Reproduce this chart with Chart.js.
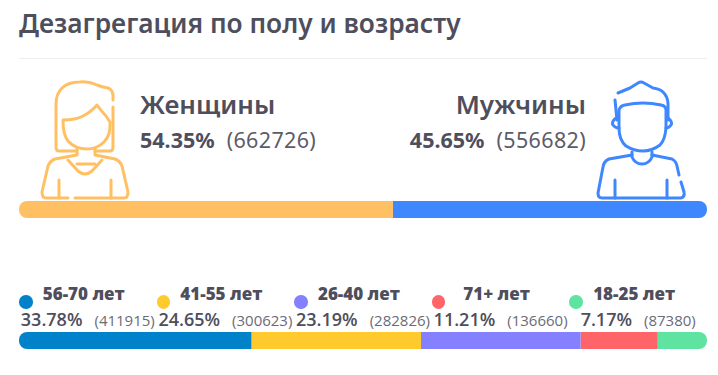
<!DOCTYPE html>
<html lang="ru">
<head>
  <meta charset="UTF-8">
  <title>Дезагрегация по полу и возрасту</title>
  <script src="https://cdn.jsdelivr.net/npm/chart.js"></script>
  <style>
    html, body { margin: 0; padding: 0; background: #fff; }
    body { width: 718px; height: 375px; position: relative; overflow: hidden; color: #4e4e5c; font-family: "Noto Sans", sans-serif; }
    h1 { position: absolute; left: 19px; top: 5px; margin: 0; font-size: 26.3px; line-height: 36px; font-weight: 600; white-space: nowrap; }
    .rule { position: absolute; left: 19px; top: 58px; width: 688px; height: 1px; background: #eeeeee; }
    .icons { position: absolute; left: 0; top: 0; }
    .icons path { fill: none; stroke-width: 3; stroke-linecap: round; stroke-linejoin: round; }
    .gender { position: absolute; top: 86px; white-space: nowrap; }
    .gender.left { left: 140px; }
    .gender.right { right: 132px; text-align: right; }
    .gender .name { font-size: 26px; line-height: 36px; font-weight: 600; }
    .gender .nums { font-size: 21.5px; line-height: 28px; margin-top: 4px; }
    .gender .nums b { margin-right: 12px; font-weight: 700; }
    .gender .nums span { letter-spacing: 0.35px; color: #5c5c69; }
    .bar { position: absolute; left: 19px; width: 688px; height: 17px; }
    #genderWrap { top: 201px; }
    #ageWrap { top: 332px; }
    .col { position: absolute; top: 283px; width: 137.6px; height: 48px; font-family: "Open Sans", sans-serif; white-space: nowrap; }
    .col .dot { position: absolute; left: 0; top: 12px; width: 13.5px; height: 13.5px; border-radius: 50%; }
    .col .lab { position: absolute; left: -4px; width: 100%; top: 1px; text-align: center; font-size: 17px; line-height: 20px; font-weight: 800; }
    .col .row { position: absolute; left: 0; right: 0; top: 25px; display: flex; justify-content: center; align-items: baseline; gap: 12px; }
    .col .pct { font-size: 18px; font-weight: 600; line-height: 22px; }
    .col .cnt { font-size: 15px; line-height: 22px; color: #6b6b76; }
  </style>
</head>
<body>
  <h1>Дезагрегация по полу и возрасту</h1>
  <div class="rule"></div>

  <svg class="icons" width="718" height="220">
    <g stroke="#ffc064">
      <path d="M113 100 V95 Q112 89 108 88 Q102 87 97 85 Q88 81 80 82 Q68 82 62 88 Q56 94 56 104 V147 Q56 151 59 151 H77"/>
      <path d="M113 107 V147 Q113 151 110 151 H95"/>
      <path d="M63 120 Q76 120 83 116 Q91 112 97 105 Q102 112 106 116 L110 122 Q111 135 104 142 Q97 149 87 149 Q75 149 68 141 Q63 135 63 120 Z"/>
      <path d="M77 149 V155 L55 159 Q50 161 48 166 L42 192 Q42 198 46 198 H68"/>
      <path d="M95 149 V155 L115 159 Q120 161 122 166 L128 192 Q128 198 124 198 H75"/>
      <path d="M68 160 L78 171 Q85 177 92 171 L102 160"/>
      <path d="M77 164 H95"/>
      <path d="M59 180 V198"/>
      <path d="M111 180 V198"/>
    </g>
    <g stroke="#3f87ff">
      <path d="M618 93 L630 88 L638 83 Q641 81 644 83 L653 88 Q660 89 663 92 Q668 97 668 104 V120"/>
      <path d="M615 100 L617 120"/>
      <path d="M619 110 Q620 106 625 105 Q643 101 661 105 Q666 106 666 110 V128 Q665 140 660 145 Q652 151 643 151 Q634 151 626 146 Q619 140 619 128 Z"/>
      <path d="M616 118 Q611 122 613 125 Q615 128 619 128"/>
      <path d="M668 118 Q673 122 671 125 Q669 128 666 128"/>
      <path d="M632 152 V157 Q635 164 642 164 Q649 164 652 157 V152"/>
      <path d="M632 155 L609 159 Q604 161 603 167 L598 193 Q598 198 602 198 H681 Q685 197 684 192 L681 182"/>
      <path d="M652 155 L672 159 Q676 161 677 166 L679 175"/>
      <path d="M615 180 V198"/>
      <path d="M667 180 V198"/>
    </g>
  </svg>

  <div id="genderText"></div>
  <div class="bar" id="genderWrap"><canvas id="genderChart"></canvas></div>
  <div id="ageText"></div>
  <div class="bar" id="ageWrap"><canvas id="ageChart"></canvas></div>

  <script>
    const genderLabels = ['Женщины', 'Мужчины'];
    const genderPercents = ['54.35%', '45.65%'];
    const genderCounts = [662726, 556682];
    const genderColors = ['#ffc064', '#3f87ff'];

    const ageLabels = ['56-70 лет', '41-55 лет', '26-40 лет', '71+ лет', '18-25 лет'];
    const agePercents = ['33.78%', '24.65%', '23.19%', '11.21%', '7.17%'];
    const ageCounts = [411915, 300623, 282826, 136660, 87380];
    const ageColors = ['#0082ca', '#ffca2e', '#8580ff', '#ff6469', '#5fe3a1'];

    function stackedBar(id, labels, counts, colors) {
      const last = counts.length - 1;
      return new Chart(document.getElementById(id), {
        type: 'bar',
        data: {
          labels: [''],
          datasets: counts.map((c, i) => ({
            label: labels[i],
            data: [c],
            backgroundColor: colors[i],
            borderSkipped: false,
            inflateAmount: 0,
            barPercentage: 1,
            categoryPercentage: 1,
            borderRadius: {
              topLeft: i === 0 ? 8 : 0,
              bottomLeft: i === 0 ? 8 : 0,
              topRight: i === last ? 8 : 0,
              bottomRight: i === last ? 8 : 0
            }
          }))
        },
        options: {
          indexAxis: 'y',
          responsive: true,
          maintainAspectRatio: false,
          animation: false,
          layout: { padding: 0 },
          plugins: { legend: { display: false }, tooltip: { enabled: false } },
          scales: {
            x: { display: false, stacked: true, min: 0, max: counts.reduce((a, b) => a + b, 0) },
            y: { display: false, stacked: true }
          }
        }
      });
    }

    stackedBar('genderChart', genderLabels, genderCounts, genderColors);
    stackedBar('ageChart', ageLabels, ageCounts, ageColors);

    document.getElementById('genderText').innerHTML = genderLabels.map((name, i) =>
      `<div class="gender ${i === 0 ? 'left' : 'right'}">
        <div class="name">${name}</div>
        <div class="nums"><b>${genderPercents[i]}</b><span>(${genderCounts[i]})</span></div>
      </div>`).join('');

    document.getElementById('ageText').innerHTML = ageLabels.map((name, i) =>
      `<div class="col" style="left:${19 + i * 137.6}px">
        <span class="dot" style="background:${ageColors[i]}"></span>
        <div class="lab">${name}</div>
        <div class="row"><span class="pct">${agePercents[i]}</span><span class="cnt">(${ageCounts[i]})</span></div>
      </div>`).join('');
  </script>
</body>
</html>
